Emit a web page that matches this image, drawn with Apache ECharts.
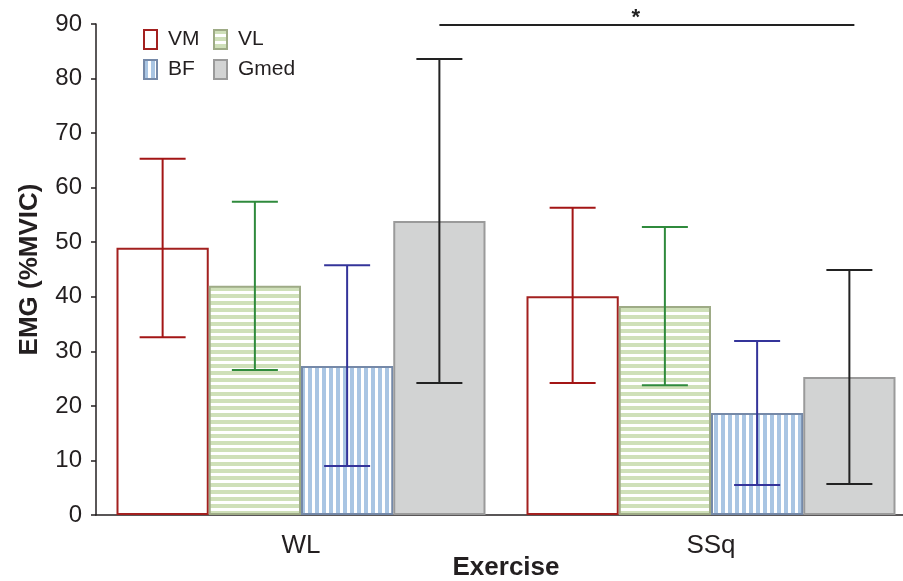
<!DOCTYPE html>
<html>
<head>
<meta charset="utf-8">
<script src="https://cdn.jsdelivr.net/npm/echarts@6/dist/echarts.min.js"></script>
<style>html,body{margin:0;padding:0;background:#fff}#c{width:903px;height:581px}</style>
</head>
<body>
<div id="c"></div>
<script>
const categories = ['WL', 'SSq'];
const muscles = ['VM', 'VL', 'BF', 'Gmed'];
const vmMean = [49.0, 40.1];
const vmLow = [32.6, 24.2];
const vmHigh = [65.3, 56.3];
const vlMean = [42.0, 38.3];
const vlLow = [26.6, 23.8];
const vlHigh = [57.4, 52.8];
const bfMean = [27.3, 18.7];
const bfLow = [9.0, 5.5];
const bfHigh = [45.8, 31.9];
const gmedMean = [53.9, 25.3];
const gmedLow = [24.2, 5.7];
const gmedHigh = [83.6, 44.9];
const yTicks = [0, 10, 20, 30, 40, 50, 60, 70, 80, 90];
const sigFrom = 'WL', sigTo = 'SSq', sigY = 89.8, sigLabel = '*';

function stripes(horizontal, c1, c2) {
  const cv = document.createElement('canvas');
  const p = 7;
  cv.width = horizontal ? 4 : p; cv.height = horizontal ? p : 4;
  const ctx = cv.getContext('2d');
  ctx.fillStyle = c2; ctx.fillRect(0, 0, cv.width, cv.height);
  ctx.fillStyle = c1;
  if (horizontal) ctx.fillRect(0, 0, cv.width, 4); else ctx.fillRect(0, 0, 4, cv.height);
  return { image: cv, repeat: 'repeat' };
}

const styles = [
  { color: '#ffffff', borderColor: '#a3201f', err: '#a31515' },
  { color: stripes(true, '#cfe0b9', '#ffffff'), borderColor: '#9eab86', err: '#2f8a3c' },
  { color: stripes(false, '#a9c5e3', '#ffffff'), borderColor: '#7589a8', err: '#34349a' },
  { color: '#d2d3d3', borderColor: '#9a9a9a', err: '#222222' }
];
const means = [vmMean, vlMean, bfMean, gmedMean];
const lows = [vmLow, vlLow, bfLow, gmedLow];
const highs = [vmHigh, vlHigh, bfHigh, gmedHigh];
const GAP = 0.1;

const series = [];
muscles.forEach((m, i) => {
  series.push({
    name: m, type: 'bar', data: means[i], barGap: '0%', barCategoryGap: (GAP * 100) + '%',
    itemStyle: { color: styles[i].color, borderColor: styles[i].borderColor, borderWidth: 2 },
    z: 2
  });
});
muscles.forEach((m, i) => {
  series.push({
    type: 'custom', z: 5, silent: true,
    data: categories.map((c, k) => [k, lows[i][k], highs[i][k]]),
    renderItem: function (params, api) {
      const k = api.value(0);
      const bandW = api.size([1, 0])[0];
      const barW = bandW * (1 - GAP) / 4;
      const cx = api.coord([k, 0])[0] + (i - 1.5) * barW;
      const yl = api.coord([k, api.value(1)])[1];
      const yh = api.coord([k, api.value(2)])[1];
      const hw = 23;
      const st = { stroke: styles[i].err, lineWidth: 2 };
      return { type: 'group', children: [
        { type: 'line', shape: { x1: cx, y1: yl, x2: cx, y2: yh }, style: st },
        { type: 'line', shape: { x1: cx - hw, y1: yh, x2: cx + hw, y2: yh }, style: st },
        { type: 'line', shape: { x1: cx - hw, y1: yl, x2: cx + hw, y2: yl }, style: st }
      ] };
    }
  });
});
series.push({
  type: 'custom', z: 6, silent: true, clip: false,
  data: [[categories.indexOf(sigFrom), categories.indexOf(sigTo), sigY]],
  renderItem: function (params, api) {
    const bandW = api.size([1, 0])[0];
    const barW = bandW * (1 - GAP) / 4;
    const x1 = api.coord([api.value(0), api.value(2)])[0] + 1.5 * barW;
    const x2 = api.coord([api.value(1), api.value(2)])[0] + 1.5 * barW + 5;
    const y = api.coord([api.value(0), api.value(2)])[1];
    return { type: 'group', children: [
      { type: 'line', shape: { x1: x1, y1: y, x2: x2, y2: y }, style: { stroke: '#222', lineWidth: 2 } },
      { type: 'text', x: (x1 + x2) / 2 - 11, y: y + 4, style: { text: sigLabel, fill: '#222', font: 'bold 22px "Liberation Sans", Arial', align: 'center', verticalAlign: 'bottom' } }
    ] };
  }
});

const legendPos = [[143, 29], [213, 29], [143, 59], [213, 59]];
const legends = muscles.map((m, i) => ({
  data: [m], left: legendPos[i][0], top: legendPos[i][1], itemWidth: 13, itemHeight: 19,
  padding: 0, selectedMode: false, icon: 'rect',
  textStyle: { fontSize: 21, color: '#231f20', fontFamily: '"Liberation Sans", Arial', padding: [0, 0, 0, 6] }
}));

const chart = echarts.init(document.getElementById('c'));
chart.setOption({
  animation: false,
  backgroundColor: '#fff',
  legend: legends,
  grid: { left: 96, top: 24, width: 820, height: 491, containLabel: false, outerBoundsMode: 'none' },
  xAxis: {
    type: 'category', data: categories,
    name: 'Exercise', nameLocation: 'middle', nameGap: 40, nameMoveOverlap: false,
    nameTextStyle: { fontSize: 26, fontWeight: 'bold', color: '#231f20', fontFamily: '"Liberation Sans", Arial' },
    axisLine: { lineStyle: { color: '#231f20', width: 1.5 } },
    axisTick: { show: false },
    axisLabel: { fontSize: 26, color: '#231f20', margin: 18, fontFamily: '"Liberation Sans", Arial' }
  },
  yAxis: {
    type: 'value', min: yTicks[0], max: yTicks[yTicks.length - 1], interval: yTicks[1] - yTicks[0],
    name: 'EMG (%MVIC)', nameLocation: 'middle', nameGap: 53, nameRotate: 90, nameMoveOverlap: false,
    nameTextStyle: { fontSize: 26, fontWeight: 'bold', color: '#231f20', fontFamily: '"Liberation Sans", Arial' },
    axisLine: { show: true, lineStyle: { color: '#231f20', width: 1.5 } },
    axisTick: { show: true, length: 5, lineStyle: { color: '#231f20', width: 1.5 } },
    axisLabel: { fontSize: 24, color: '#231f20', margin: 14, fontFamily: '"Liberation Sans", Arial' },
    splitLine: { show: false }
  },
  series: series
});
</script>
</body>
</html>
